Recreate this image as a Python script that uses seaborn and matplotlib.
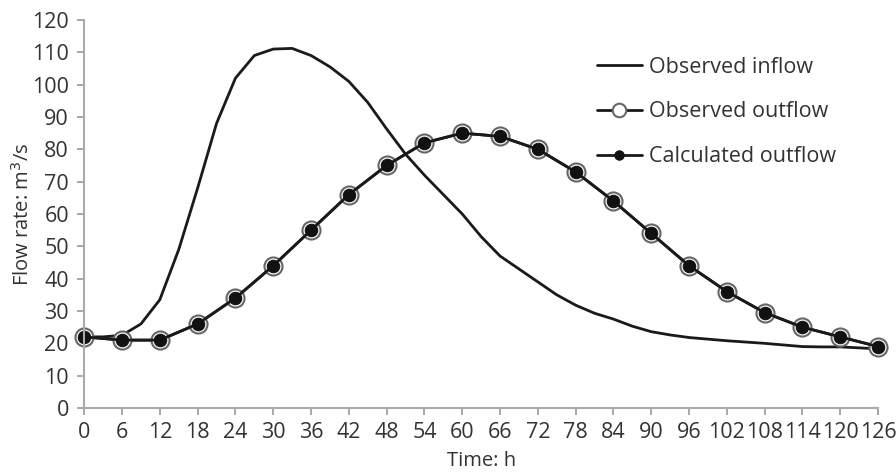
import matplotlib
matplotlib.use("Agg")
import matplotlib.pyplot as plt
import seaborn as sns

inflow_hours = [0, 3, 6, 9, 12, 15, 18, 21, 24, 27, 30, 33, 36, 39, 42, 45, 48, 51, 54, 57, 60,
                63, 66, 69, 72, 75, 78, 81, 84, 87, 90, 93, 96, 99, 102, 105, 108, 111, 114,
                117, 120, 123, 126]
observed_inflow = [22, 22, 22.5, 26, 33.5, 49, 68, 88, 102, 109, 111, 111.2, 109, 105.5, 101,
                   94.5, 86.3, 78.5, 72, 66, 60, 53, 47, 43, 39, 35, 31.8, 29.3, 27.5, 25.3, 23.6,
                   22.6, 21.8, 21.3, 20.8, 20.4, 20, 19.5, 19, 18.9, 18.9, 18.6, 18.3]

hours = [0, 6, 12, 18, 24, 30, 36, 42, 48, 54, 60, 66, 72, 78, 84, 90, 96, 102, 108, 114, 120, 126]
observed_outflow = [22, 21, 21, 26, 34, 44, 55, 66, 75, 82, 85, 84, 80, 73, 64, 54, 44, 36, 29.5, 25, 22, 19]
calculated_outflow = [22, 21, 21, 26, 34, 44, 55, 66, 75, 82, 85, 84, 80, 73, 64, 54, 44, 36, 29.5, 25, 22, 19]

sns.set_style("ticks")
plt.rcParams['font.family'] = ['Open Sans', 'DejaVu Sans']

fig = plt.figure(figsize=(8.96, 4.75), dpi=100)
ax = fig.add_axes([0.094, 0.141, 0.886, 0.817])

sns.lineplot(x=inflow_hours, y=observed_inflow, ax=ax, color='#1a1a1a', lw=2,
             solid_joinstyle='round', label='Observed inflow')
sns.lineplot(x=hours, y=observed_outflow, ax=ax, color='#1a1a1a', lw=2,
             marker='o', ms=13, mfc='white', mec='#666666', mew=1.5,
             label='Observed outflow', clip_on=False)
sns.lineplot(x=hours, y=calculated_outflow, ax=ax, color='#1a1a1a', lw=2,
             marker='o', ms=9, mfc='#111111', mec='#111111',
             label='Calculated outflow', clip_on=False)

ax.set_xlim(0, 126)
ax.set_ylim(0, 120)
ax.set_xticks(hours)
ax.set_yticks(range(0, 121, 10))
ax.tick_params(labelsize=15.5, colors='#999999', labelcolor='#333333',
               length=5, width=1.2, direction='out')
ax.tick_params(axis='x', pad=5)
ax.tick_params(axis='y', pad=6)
for side in ['top', 'right']:
    ax.spines[side].set_visible(False)
for side in ['left', 'bottom']:
    ax.spines[side].set_color('#aaaaaa')
    ax.spines[side].set_linewidth(1.5)

ax.set_xlabel('Time: h', fontsize=14.5, color='#333333', labelpad=6)
ax.set_ylabel('Flow rate: m$^3$/s', fontsize=14.5, color='#333333', labelpad=-1)

leg = ax.legend(loc='upper left', bbox_to_anchor=(0.622, 0.955), frameon=False,
                fontsize=15.5, handlelength=2.05, handletextpad=0.33,
                labelspacing=1.1, labelcolor='#333333')
for h in leg.legend_handles:
    h.set_markersize(h.get_markersize() * 0.75)

fig.savefig('out.png', dpi=100)
